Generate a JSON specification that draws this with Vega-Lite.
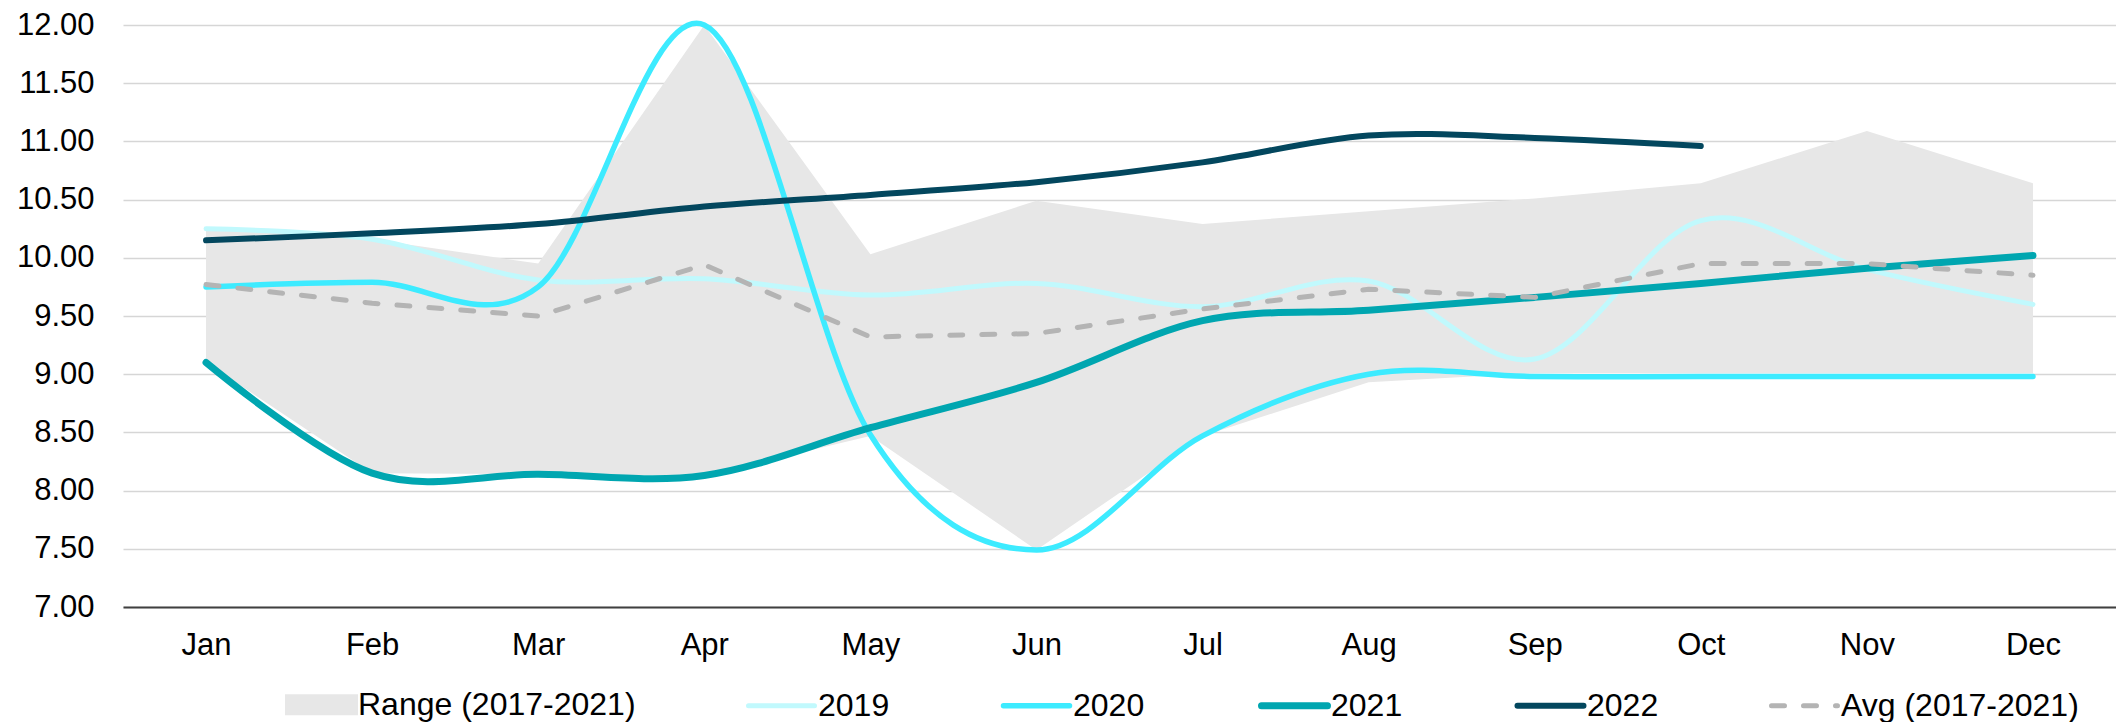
{
  "$schema": "https://vega.github.io/schema/vega-lite/v6.json",
  "width": 1993,
  "height": 582,
  "autosize": "none",
  "padding": {"left": 123, "top": 25, "right": 0, "bottom": 115},
  "background": "white",
  "config": {
    "font": "Liberation Sans",
    "view": {"stroke": null},
    "axis": {"labelFont": "Liberation Sans", "labelColor": "#000000", "title": null}
  },
  "datasets": {
    "range": [
      {"month": "Jan", "lo": 9.10, "hi": 10.25, "series": "Range (2017-2021)"},
      {"month": "Feb", "lo": 8.15, "hi": 10.16, "series": "Range (2017-2021)"},
      {"month": "Mar", "lo": 8.14, "hi": 9.95, "series": "Range (2017-2021)"},
      {"month": "Apr", "lo": 8.13, "hi": 12.00, "series": "Range (2017-2021)"},
      {"month": "May", "lo": 8.47, "hi": 10.03, "series": "Range (2017-2021)"},
      {"month": "Jun", "lo": 7.49, "hi": 10.49, "series": "Range (2017-2021)"},
      {"month": "Jul", "lo": 8.47, "hi": 10.29, "series": "Range (2017-2021)"},
      {"month": "Aug", "lo": 8.93, "hi": 10.40, "series": "Range (2017-2021)"},
      {"month": "Sep", "lo": 9.01, "hi": 10.51, "series": "Range (2017-2021)"},
      {"month": "Oct", "lo": 9.01, "hi": 10.64, "series": "Range (2017-2021)"},
      {"month": "Nov", "lo": 9.01, "hi": 11.09, "series": "Range (2017-2021)"},
      {"month": "Dec", "lo": 9.01, "hi": 10.64, "series": "Range (2017-2021)"}
    ],
    "lines": [
      {"month": "Jan", "series": "2019", "value": 10.25},
      {"month": "Feb", "series": "2019", "value": 10.16},
      {"month": "Mar", "series": "2019", "value": 9.81},
      {"month": "Apr", "series": "2019", "value": 9.82},
      {"month": "May", "series": "2019", "value": 9.68},
      {"month": "Jun", "series": "2019", "value": 9.78},
      {"month": "Jul", "series": "2019", "value": 9.58},
      {"month": "Aug", "series": "2019", "value": 9.80},
      {"month": "Sep", "series": "2019", "value": 9.13},
      {"month": "Oct", "series": "2019", "value": 10.32},
      {"month": "Nov", "series": "2019", "value": 9.90},
      {"month": "Dec", "series": "2019", "value": 9.60},
      {"month": "Jan", "series": "2020", "value": 9.75},
      {"month": "Feb", "series": "2020", "value": 9.79},
      {"month": "Mar", "series": "2020", "value": 9.75},
      {"month": "Apr", "series": "2020", "value": 12.00},
      {"month": "May", "series": "2020", "value": 8.48},
      {"month": "Jun", "series": "2020", "value": 7.49},
      {"month": "Jul", "series": "2020", "value": 8.47},
      {"month": "Aug", "series": "2020", "value": 9.00},
      {"month": "Sep", "series": "2020", "value": 8.98},
      {"month": "Oct", "series": "2020", "value": 8.98},
      {"month": "Nov", "series": "2020", "value": 8.98},
      {"month": "Dec", "series": "2020", "value": 8.98},
      {"month": "Jan", "series": "2021", "value": 9.10},
      {"month": "Feb", "series": "2021", "value": 8.15},
      {"month": "Mar", "series": "2021", "value": 8.14},
      {"month": "Apr", "series": "2021", "value": 8.13},
      {"month": "May", "series": "2021", "value": 8.54},
      {"month": "Jun", "series": "2021", "value": 8.93},
      {"month": "Jul", "series": "2021", "value": 9.46},
      {"month": "Aug", "series": "2021", "value": 9.55},
      {"month": "Sep", "series": "2021", "value": 9.66},
      {"month": "Oct", "series": "2021", "value": 9.78},
      {"month": "Nov", "series": "2021", "value": 9.91},
      {"month": "Dec", "series": "2021", "value": 10.02},
      {"month": "Jan", "series": "2022", "value": 10.15},
      {"month": "Feb", "series": "2022", "value": 10.21},
      {"month": "Mar", "series": "2022", "value": 10.29},
      {"month": "Apr", "series": "2022", "value": 10.44},
      {"month": "May", "series": "2022", "value": 10.54},
      {"month": "Jun", "series": "2022", "value": 10.65},
      {"month": "Jul", "series": "2022", "value": 10.82},
      {"month": "Aug", "series": "2022", "value": 11.05},
      {"month": "Sep", "series": "2022", "value": 11.03},
      {"month": "Oct", "series": "2022", "value": 10.96}
    ],
    "avg": [
      {"month": "Jan", "series": "Avg (2017-2021)", "value": 9.77},
      {"month": "Feb", "series": "Avg (2017-2021)", "value": 9.61},
      {"month": "Mar", "series": "Avg (2017-2021)", "value": 9.50},
      {"month": "Apr", "series": "Avg (2017-2021)", "value": 9.94},
      {"month": "May", "series": "Avg (2017-2021)", "value": 9.32},
      {"month": "Jun", "series": "Avg (2017-2021)", "value": 9.35},
      {"month": "Jul", "series": "Avg (2017-2021)", "value": 9.56},
      {"month": "Aug", "series": "Avg (2017-2021)", "value": 9.73},
      {"month": "Sep", "series": "Avg (2017-2021)", "value": 9.66},
      {"month": "Oct", "series": "Avg (2017-2021)", "value": 9.95},
      {"month": "Nov", "series": "Avg (2017-2021)", "value": 9.95},
      {"month": "Dec", "series": "Avg (2017-2021)", "value": 9.85}
    ]
  },
  "encoding": {
    "x": {
      "field": "month", "type": "ordinal",
      "scale": {"type": "point", "padding": 0.5, "domain": ["Jan","Feb","Mar","Apr","May","Jun","Jul","Aug","Sep","Oct","Nov","Dec"]},
      "axis": {"labelAngle": 0, "ticks": false, "tickSize": 0, "labelPadding": 23, "labelFontSize": 31, "domainColor": "#404040", "domainWidth": 2, "grid": false, "title": null}
    },
    "color": {
      "field": "series", "type": "nominal",
      "scale": {
        "domain": ["Range (2017-2021)", "2019", "2020", "2021", "2022", "Avg (2017-2021)"],
        "range": ["#E7E7E7", "#C1F9FD", "#3DEBFF", "#00A6B0", "#03475E", "#B4B4B4"]
      },
      "legend": {
        "title": null,
        "orient": "none",
        "legendX": 163,
        "legendY": 644,
        "direction": "horizontal",
        "symbolType": "stroke",
        "symbolSize": 4356,
        "symbolStrokeWidth": 4.5,
        "labelFontSize": 32,
        "labelFont": "Liberation Sans",
        "labelColor": "#000000",
        "labelOffset": 1,
        "labelLimit": 1000,
        "columnPadding": 102,
        "padding": 0,
        "encode": {
          "symbols": {
            "update": {
              "shape": {"signal": "(datum.value === 'Range (2017-2021)' ? 'M-1.03,-0.24H1.03V0.24H-1.03Z' : 'stroke')"},
              "fill": {"signal": "(datum.value === 'Range (2017-2021)' ? '#E7E7E7' : 'transparent')"},
              "stroke": {"signal": "(datum.value === 'Range (2017-2021)' ? 'transparent' : scale('color', datum.value))"},
              "strokeWidth": {"signal": "(datum.value === '2021' ? 7 : (datum.value === '2022' ? 6 : (datum.value === '2020' ? 5.5 : 5)))"},
              "strokeDash": {"signal": "(datum.value === 'Avg (2017-2021)' ? [13, 19] : [1, 0])"},
              "strokeCap": {"value": "round"},
              "opacity": {"value": 1}
            }
          }
        }
      }
    }
  },
  "layer": [
    {
      "data": {"name": "range"},
      "mark": {"type": "area", "opacity": 1},
      "encoding": {
        "y": {
          "field": "lo", "type": "quantitative",
          "scale": {"domain": [7, 12], "nice": false, "zero": false},
          "axis": {"values": [7, 7.5, 8, 8.5, 9, 9.5, 10, 10.5, 11, 11.5, 12], "format": ".2f", "domain": false, "ticks": false, "tickSize": 0, "labelPadding": 29, "labelFontSize": 31, "gridColor": "#D6D6D6", "gridWidth": 1.5, "title": null}
        },
        "y2": {"field": "hi"}
      }
    },
    {
      "data": {"name": "lines"},
      "transform": [{"filter": "datum.series === '2019'"}],
      "mark": {"type": "line", "interpolate": "cardinal", "tension": 0, "strokeWidth": 5, "strokeCap": "round", "strokeJoin": "round"},
      "encoding": {"y": {"field": "value", "type": "quantitative"}}
    },
    {
      "data": {"name": "lines"},
      "transform": [{"filter": "datum.series === '2020'"}],
      "mark": {"type": "line", "interpolate": "cardinal", "tension": 0, "strokeWidth": 5.5, "strokeCap": "round", "strokeJoin": "round"},
      "encoding": {"y": {"field": "value", "type": "quantitative"}}
    },
    {
      "data": {"name": "lines"},
      "transform": [{"filter": "datum.series === '2021'"}],
      "mark": {"type": "line", "interpolate": "cardinal", "tension": 0, "strokeWidth": 7, "strokeCap": "round", "strokeJoin": "round"},
      "encoding": {"y": {"field": "value", "type": "quantitative"}}
    },
    {
      "data": {"name": "lines"},
      "transform": [{"filter": "datum.series === '2022'"}],
      "mark": {"type": "line", "interpolate": "cardinal", "tension": 0, "strokeWidth": 6, "strokeCap": "round", "strokeJoin": "round"},
      "encoding": {"y": {"field": "value", "type": "quantitative"}}
    },
    {
      "data": {"name": "avg"},
      "mark": {"type": "line", "strokeWidth": 5, "strokeDash": [13, 19], "strokeCap": "round", "strokeJoin": "round"},
      "encoding": {"y": {"field": "value", "type": "quantitative"}}
    }
  ]
}
